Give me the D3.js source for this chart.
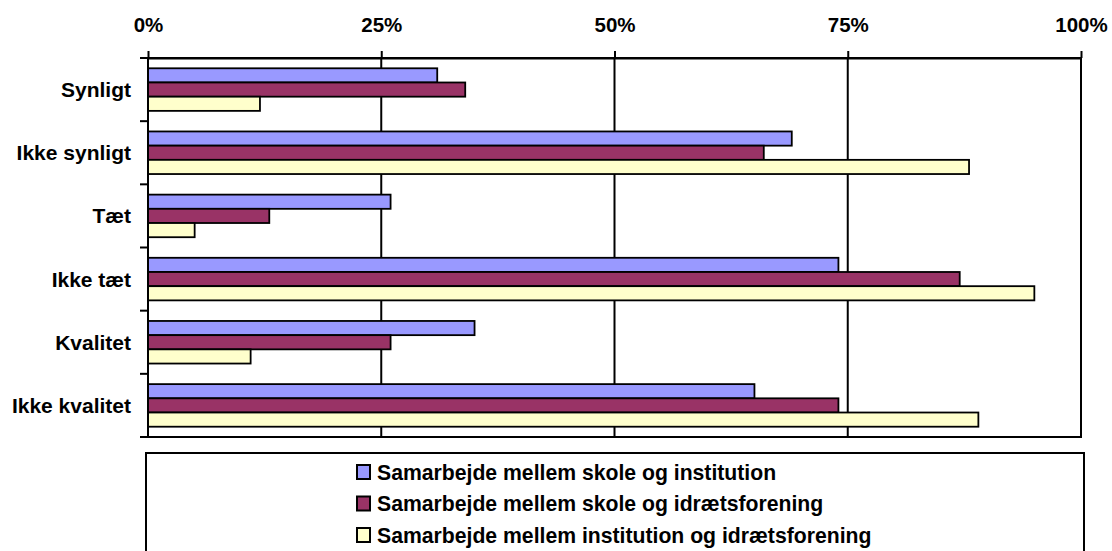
<!DOCTYPE html>
<html>
<head>
<meta charset="utf-8">
<script src="https://cdn.jsdelivr.net/npm/d3@7"></script>
<style>
  html, body { margin: 0; padding: 0; background: #fff; }
  svg { display: block; font-family: "Liberation Sans", Arial, sans-serif; }
</style>
</head>
<body>
<svg id="chart" width="1112" height="551"></svg>
<script>
const categories = ["Synligt", "Ikke synligt", "Tæt", "Ikke tæt", "Kvalitet", "Ikke kvalitet"];
const seriesNames = [
  "Samarbejde mellem skole og institution",
  "Samarbejde mellem skole og idrætsforening",
  "Samarbejde mellem institution og idrætsforening"
];
const skoleInstitution = [0.31, 0.69, 0.26, 0.74, 0.35, 0.65];
const skoleIdraet = [0.34, 0.66, 0.13, 0.87, 0.26, 0.74];
const institutionIdraet = [0.12, 0.88, 0.05, 0.95, 0.11, 0.89];
const seriesValues = [skoleInstitution, skoleIdraet, institutionIdraet];
const colors = ["#9999FF", "#993366", "#FFFFCC"];
const tickValues = [0, 0.25, 0.5, 0.75, 1];

const svg = d3.select("#chart");
const pL = 148, pR = 1081, pT = 58, pB = 437;

const x = d3.scaleLinear().domain([0, 1]).range([pL, pR]);
const y0 = d3.scaleBand().domain(categories).range([pT, pB]).paddingInner(0).paddingOuter(0);
const y1 = d3.scaleBand().domain(d3.range(seriesNames.length)).range([0, y0.bandwidth()])
  .paddingInner(0).paddingOuter(0.725);

// plot area frame
svg.append("rect").attr("x", pL).attr("y", pT)
  .attr("width", pR - pL).attr("height", pB - pT)
  .attr("fill", "#fff").attr("stroke", "#000").attr("stroke-width", 2);

// gridlines
svg.append("g").selectAll("line").data(tickValues.slice(1, -1)).join("line")
  .attr("x1", d => x(d)).attr("x2", d => x(d))
  .attr("y1", pT).attr("y2", pB)
  .attr("stroke", "#000").attr("stroke-width", 2);

// bars
const rows = [];
categories.forEach((c, ci) => seriesValues.forEach((vals, si) => rows.push({c, si, v: vals[ci]})));
svg.append("g").selectAll("rect").data(rows).join("rect")
  .attr("x", x(0))
  .attr("y", d => y0(d.c) + y1(d.si))
  .attr("width", d => x(d.v) - x(0))
  .attr("height", y1.bandwidth())
  .attr("fill", d => colors[d.si])
  .attr("stroke", "#000").attr("stroke-width", 1.8);

// top axis
const xAxis = d3.axisTop(x).tickValues(tickValues).tickFormat(d3.format(".0%"))
  .tickSizeInner(7).tickSizeOuter(0).tickPadding(19);
const gx = svg.append("g").attr("transform", `translate(0,${pT})`).call(xAxis);
gx.select(".domain").attr("stroke", "#000").attr("stroke-width", 2);
gx.selectAll(".tick line").attr("stroke", "#000").attr("stroke-width", 2);
gx.selectAll(".tick text").attr("font-size", 20.5).attr("font-weight", "bold").attr("fill", "#000")
  .attr("font-family", "Liberation Sans, Arial, sans-serif");

// left axis (ticks at category boundaries)
const boundaries = categories.map(c => y0(c)).concat([pB]);
svg.append("g").selectAll("line").data(boundaries).join("line")
  .attr("x1", pL - 8).attr("x2", pL).attr("y1", d => d).attr("y2", d => d)
  .attr("stroke", "#000").attr("stroke-width", 2);
svg.append("line").attr("x1", pL).attr("x2", pL).attr("y1", pT).attr("y2", pB)
  .attr("stroke", "#000").attr("stroke-width", 2);
svg.append("g").selectAll("text").data(categories).join("text")
  .attr("x", 131).attr("y", d => y0(d) + y0.bandwidth() / 2)
  .attr("text-anchor", "end").attr("dominant-baseline", "central")
  .attr("font-size", 21).attr("font-weight", "bold").attr("fill", "#000")
  .text(d => d);

// legend
svg.append("rect").attr("x", 146).attr("y", 453).attr("width", 1084 - 146).attr("height", 110)
  .attr("fill", "#fff").attr("stroke", "#000").attr("stroke-width", 2);
const leg = svg.append("g").selectAll("g").data(seriesNames).join("g")
  .attr("transform", (d, i) => `translate(357,${472 + i * 31.5})`);
leg.append("rect").attr("x", 0).attr("y", -7).attr("width", 13).attr("height", 14)
  .attr("fill", (d, i) => colors[i]).attr("stroke", "#000").attr("stroke-width", 2);
leg.append("text").attr("x", 20).attr("y", 0).attr("dominant-baseline", "central")
  .attr("font-size", 21.2).attr("font-weight", "bold").attr("fill", "#000")
  .text(d => d);
</script>
</body>
</html>
